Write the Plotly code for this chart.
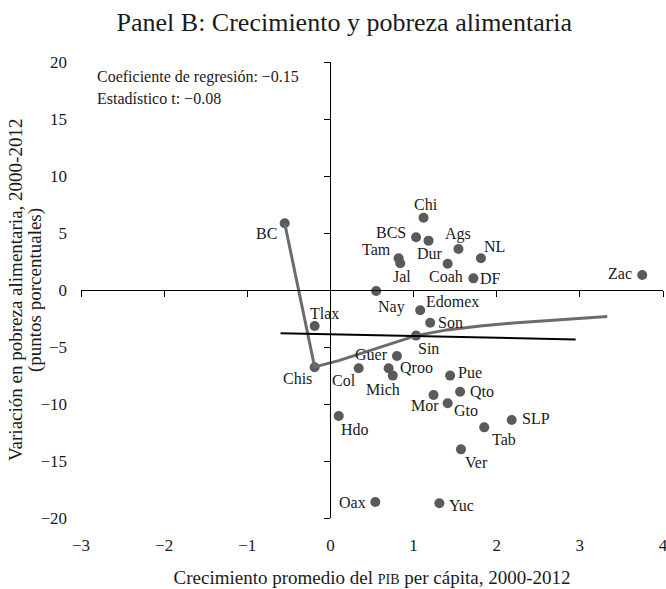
import plotly.graph_objects as go

# ---- data ----
states = ["BC", "Chi", "BCS", "Dur", "Ags", "NL", "Tam", "Jal", "Coah", "DF",
          "Nay", "Edomex", "Son", "Tlax", "Sin", "Chis", "Guer", "Col", "Qroo",
          "Mich", "Pue", "Qto", "Mor", "Gto", "Hdo", "SLP", "Tab", "Ver", "Oax",
          "Yuc", "Zac"]
growth = [-0.55, 1.12, 1.03, 1.18, 1.54, 1.81, 0.82, 0.84, 1.41, 1.72,
          0.55, 1.08, 1.20, -0.19, 1.03, -0.19, 0.80, 0.34, 0.70,
          0.75, 1.44, 1.56, 1.24, 1.41, 0.10, 2.18, 1.85, 1.57, 0.54,
          1.31, 3.75]
poverty_change = [5.85, 6.34, 4.62, 4.33, 3.60, 2.78, 2.78, 2.34, 2.31, 1.02,
                  -0.09, -1.78, -2.87, -3.16, -4.00, -6.78, -5.79, -6.87, -6.87,
                  -7.51, -7.51, -8.92, -9.21, -9.94, -11.05, -11.40, -12.05, -13.98, -18.60,
                  -18.70, 1.32]

# nonparametric fit
smooth_x = [-0.55, -0.19, 0.10, 0.40, 0.70, 1.03, 1.40, 1.80, 2.20, 2.60, 3.00, 3.33]
smooth_y = [5.85, -6.75, -6.20, -5.50, -4.75, -4.00, -3.50, -3.15, -2.90, -2.70, -2.50, -2.32]

# linear regression
reg_intercept = -3.89
reg_slope = -0.15
reg_x = [-0.60, 2.95]
reg_y = [reg_intercept + reg_slope * v for v in reg_x]

x_ticks = [-3, -2, -1, 0, 1, 2, 3, 4]
y_ticks = [-20, -15, -10, -5, 0, 5, 10, 15, 20]

# label placement (anchor, x shift px, y shift px downward)
label_style = {
    "BC": ("right", -6, 10), "Chi": ("center", 2, -13), "BCS": ("right", -8, -5),
    "Dur": ("center", 1, 13), "Ags": ("center", 0, -15), "NL": ("left", 1, -12),
    "Tam": ("right", -6, -9), "Jal": ("center", 2, 13), "Coah": ("center", -2, 13),
    "DF": ("left", 5, 0), "Nay": ("left", 0, 16), "Edomex": ("left", 4, -9),
    "Son": ("left", 6, 0), "Tlax": ("center", 10, -13), "Sin": ("left", 0, 13),
    "Chis": ("right", -1, 11), "Guer": ("right", -7, -2), "Col": ("right", -1, 12),
    "Qroo": ("left", 9, -1), "Mich": ("center", -10, 14), "Pue": ("left", 6, -3),
    "Qto": ("left", 8, 0), "Mor": ("center", -9, 11), "Gto": ("left", 4, 7),
    "Hdo": ("left", 0, 14), "SLP": ("left", 8, -1), "Tab": ("left", 6, 12),
    "Ver": ("left", 2, 13), "Oax": ("right", -7, 0), "Yuc": ("left", 8, 2),
    "Zac": ("right", -8, -1),
}


def fmt(v):
    return ("\u2212" + str(abs(v))) if v < 0 else str(v)


FONT = "Liberation Serif"
TXT = "#1a1a1a"

fig = go.Figure()

fig.add_trace(go.Scatter(
    x=smooth_x, y=smooth_y, mode="lines",
    line=dict(color="#6b6b6b", width=3), hoverinfo="skip",
    xaxis="x2", yaxis="y2"))

fig.add_trace(go.Scatter(
    x=reg_x, y=reg_y, mode="lines",
    line=dict(color="#000000", width=2), hoverinfo="skip",
    xaxis="x2", yaxis="y2"))

fig.add_trace(go.Scatter(
    x=growth, y=poverty_change, mode="markers",
    marker=dict(size=10, color="#5a5a5a"),
    cliponaxis=False))

for name, gx, py in zip(states, growth, poverty_change):
    anchor, dx, dy = label_style[name]
    fig.add_annotation(x=gx, y=py, text=name, showarrow=False,
                       xanchor=anchor, yanchor="middle", xshift=dx, yshift=-dy,
                       font=dict(family=FONT, size=16, color=TXT))

fig.update_layout(
    width=666, height=589,
    margin=dict(l=81, r=3, t=62, b=71),
    paper_bgcolor="white", plot_bgcolor="white",
    showlegend=False,
    font=dict(family=FONT, color=TXT),
    title=dict(text="Panel B: Crecimiento y pobreza alimentaria",
               x=0.517, xanchor="center", y=0.962, yanchor="middle",
               font=dict(family=FONT, size=26, color=TXT)),
    xaxis=dict(range=[-3, 4], tickvals=x_ticks, ticktext=[fmt(v) for v in x_ticks],
               showgrid=False, zeroline=False, showline=False, ticks="",
               automargin=False,
               tickfont=dict(family=FONT, size=17, color=TXT),
               ticklabelstandoff=15, ticklabeloverflow="allow",
               title=dict(text="Crecimiento promedio del <span style='font-size:14px'>PIB</span> per cápita, 2000-2012",
                          font=dict(family=FONT, size=19, color=TXT), standoff=16)),
    yaxis=dict(range=[-20, 20], tickvals=y_ticks, ticktext=[fmt(v) for v in y_ticks],
               showgrid=False, zeroline=False, showline=False, ticks="",
               automargin=False,
               tickfont=dict(family=FONT, size=17, color=TXT),
               ticklabelstandoff=13),
    xaxis2=dict(overlaying="x", matches="x", anchor="free", position=0.5,
                automargin=False,
                tickvals=x_ticks, showticklabels=False, showgrid=False, zeroline=False,
                showline=True, linecolor="black", linewidth=1.3,
                ticks="outside", ticklen=6, tickwidth=1.3, tickcolor="black"),
    yaxis2=dict(overlaying="y", matches="y", anchor="free", position=3 / 7,
                automargin=False,
                tickvals=y_ticks, showticklabels=False, showgrid=False, zeroline=False,
                showline=True, linecolor="black", linewidth=1.3,
                ticks="outside", ticklen=6, tickwidth=1.3, tickcolor="black"),
)

# y-axis title as two rotated lines
fig.add_annotation(text="Variación en pobreza alimentaria, 2000-2012", textangle=-90,
                   xref="paper", yref="paper", x=-0.1134, y=0.5,
                   xanchor="center", yanchor="middle", showarrow=False,
                   font=dict(family=FONT, size=19, color=TXT))
fig.add_annotation(text="(puntos porcentuales)", textangle=-90,
                   xref="paper", yref="paper", x=-0.0790, y=0.5,
                   xanchor="center", yanchor="middle", showarrow=False,
                   font=dict(family=FONT, size=19, color=TXT))

fig.add_annotation(text="Coeficiente de regresión: \u22120.15", xref="paper", yref="paper",
                   x=0.024, y=0.967, xanchor="left", yanchor="middle", showarrow=False,
                   font=dict(family=FONT, size=16, color=TXT))
fig.add_annotation(text="Estadístico t: \u22120.08", xref="paper", yref="paper",
                   x=0.024, y=0.921, xanchor="left", yanchor="middle", showarrow=False,
                   font=dict(family=FONT, size=16, color=TXT))

fig.write_html("out.html", config={"displayModeBar": False},
               post_script="document.body.style.margin='0px';")
